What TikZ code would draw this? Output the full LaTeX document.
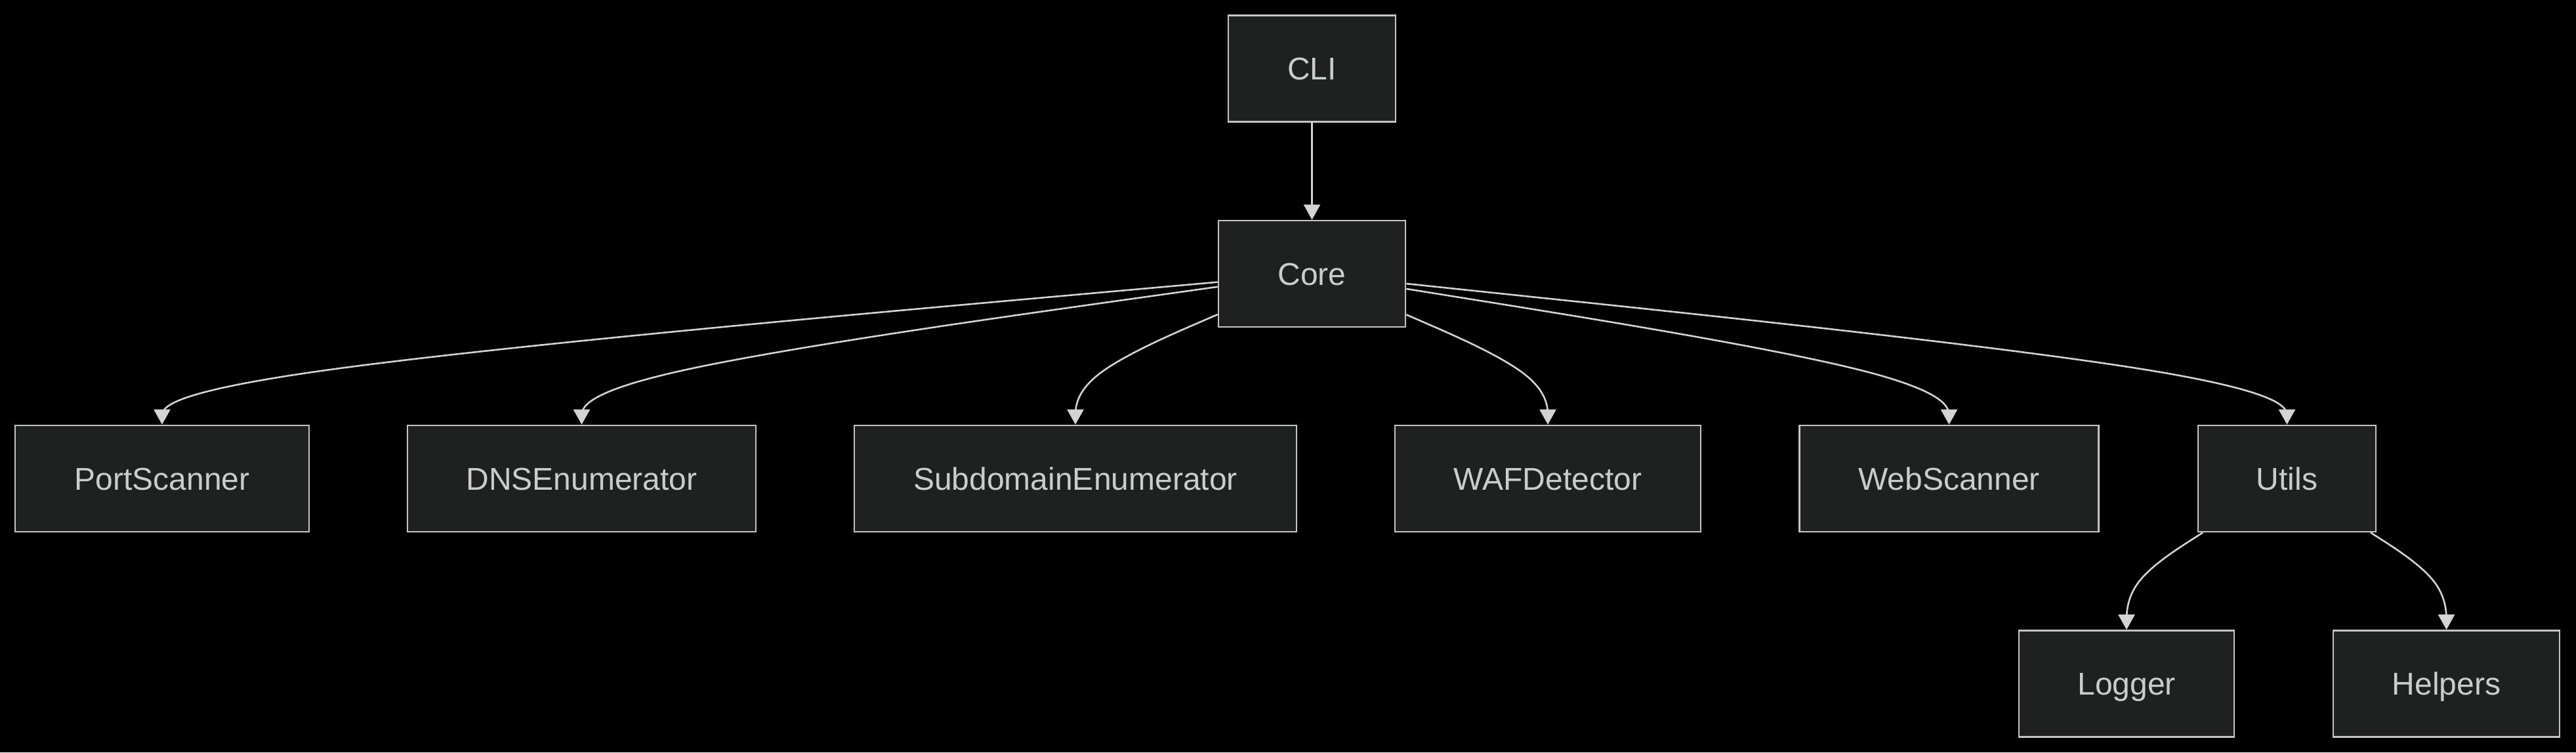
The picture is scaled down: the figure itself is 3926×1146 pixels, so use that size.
\documentclass[tikz,border=0pt]{standalone}
\usepackage{fontspec}
\setmainfont{Liberation Sans}
\usetikzlibrary{calc,arrows.meta}
\definecolor{bgc}{HTML}{000000}
\definecolor{boxfill}{HTML}{1F2020}
\definecolor{boxline}{HTML}{C4C4C4}
\definecolor{txtc}{HTML}{CCCCCC}
\definecolor{edgec}{HTML}{D3D3D3}
\tikzset{
  box/.style={draw=boxline, fill=boxfill, line width=2.6pt, rectangle,
    minimum height=162pt, inner sep=0pt, text=txtc,
    font=\fontsize{48}{58}\selectfont, text height=34.4pt, text depth=0pt},
  edge/.style={draw=edgec, line width=2.6pt,
    -{Triangle[length=23pt,width=25pt,fill=edgec]}},
}
\newcommand{\basisedge}[3]{%
  \path (#1) -- (#2.north |- #3) coordinate[pos=0] (bs);
  \coordinate (bm) at (#2.north |- #3);
  \coordinate (be) at (#2.north);
  \draw[edge] (bs) -- ($(bs)!1/6!(bm)$)
    .. controls ($(bs)!1/3!(bm)$) and ($(bs)!2/3!(bm)$) .. ($(bm)!1/3!($(bs)!0.5!(be)$)$)
    .. controls ($(bm)!1/3!(be)$) and ($(bm)!2/3!(be)$) .. ($(be)!1/6!(bm)$)
    -- (be);
}
\begin{document}
\begin{tikzpicture}[x=1pt,y=-1pt]
\fill[bgc] (0,0) rectangle (3926,1146);
\useasboundingbox (0,0) rectangle (3926,1146);

\node[box, minimum width=255pt] (cli) at (1999.5,104.5) {CLI};
\node[box, minimum width=285pt] (core) at (1999.5,417) {Core};

\node[box, minimum width=448pt] (port) at (247,729) {PortScanner};
\node[box, minimum width=531pt] (dns) at (886.5,729) {DNSEnumerator};
\node[box, minimum width=674pt] (sub) at (1639,729) {SubdomainEnumerator};
\node[box, minimum width=466pt] (waf) at (2359,729) {WAFDetector};
\node[box, minimum width=456pt] (web) at (2970.5,729) {WebScanner};
\node[box, minimum width=271pt] (utils) at (3485.5,729) {Utils};

\node[box, minimum width=328pt] (logger) at (3241,1041.5) {Logger};
\node[box, minimum width=345pt] (helpers) at (3728.5,1041.5) {Helpers};

\coordinate (mid2) at (0,573);
\coordinate (mid3) at (0,885.5);

\draw[edge] (cli) -- (core);
\basisedge{core}{port}{mid2}
\basisedge{core}{dns}{mid2}
\basisedge{core}{sub}{mid2}
\basisedge{core}{waf}{mid2}
\basisedge{core}{web}{mid2}
\basisedge{core}{utils}{mid2}
\basisedge{utils}{logger}{mid3}
\basisedge{utils}{helpers}{mid3}
\end{tikzpicture}
\end{document}
